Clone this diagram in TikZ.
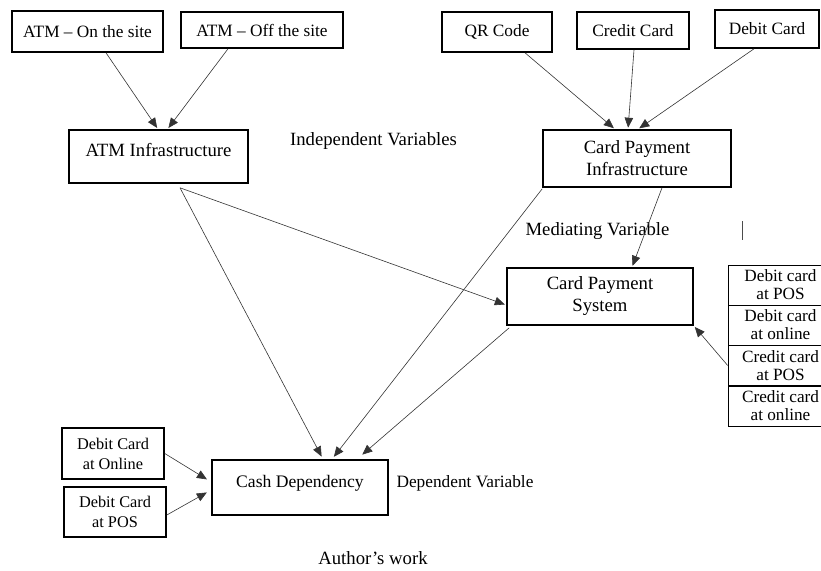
\documentclass[tikz,border=0pt]{standalone}
\usepackage{fontspec}
\setmainfont{Liberation Serif}
\usetikzlibrary{arrows.meta, positioning}
\tikzset{
	varbox/.style={draw, line width=1.6pt, inner sep=0pt, align=center,
		font=\fontsize{18.7}{22}\selectfont}
}
\tikzset{
	fsize/.style={font=\fontsize{#1}{21}\selectfont}
}
\tikzset{
	cellbox/.style={draw, line width=0.6pt, inner sep=0pt, align=center,
		minimum width=105pt, minimum height=40.25pt,
		font=\fontsize{17.2}{18}\selectfont}
}
\tikzset{
	plaintext/.style={inner sep=0pt, font=\fontsize{18.7}{22}\selectfont}
}
\tikzset{
	toptext/.style={text height=12.5pt, text depth=12.5pt}
}
\tikzset{
	conn/.style={-{Triangle[length=10pt,width=8.5pt]}, line width=0.6pt, black!80,
		shorten >=1.5pt}
}

\begin{document}
\begin{tikzpicture}[x=1pt, y=-1pt]
      \useasboundingbox (0,0) rectangle (821,570);
      % sources of the two infrastructures
      \node[varbox, fsize=17.3, minimum width=151pt, minimum height=41pt] (onsite) at (87.5,31.5) {ATM -- On the site};
      \node[varbox, fsize=17.3, minimum width=162pt, minimum height=36pt] (offsite) at (262,30) {ATM -- Off the site};
      \node[varbox, fsize=17.3, minimum width=110pt, minimum height=40pt] (qr) at (497,32) {QR Code};
      \node[varbox, fsize=17.3, minimum width=112pt, minimum height=37pt] (credit) at (633,30.5) {Credit Card};
      \node[varbox, fsize=17.3, minimum width=104pt, minimum height=38pt] (debit) at (767,29) {Debit Card};
      % infrastructures, system and outcome
      \node[varbox, toptext, minimum width=179pt, minimum height=53pt] (atm) at (158.5,156.5) {ATM Infrastructure};
      \node[varbox, minimum width=188pt, minimum height=57pt] (cpi) at (637,158.5) {Card Payment\\Infrastructure};
      \node[varbox, minimum width=186pt, minimum height=57pt] (cps) at (600,296.5) {Card Payment\\System};
      \node[varbox, fsize=17.6, toptext, minimum width=176pt, minimum height=55pt] (cash) at (300,487.5) {Cash Dependency};
      \node[varbox, font=\fontsize{16.3}{20}\selectfont, minimum width=102pt, minimum height=51pt] (dco) at (113,453.5) {Debit Card\\at Online};
      \node[varbox, font=\fontsize{16.3}{20}\selectfont, minimum width=102pt, minimum height=50pt] (dcp) at (115,512) {Debit Card\\at POS};
      % channels of the payment system, cut at the right edge
      \foreach \i/\lbl/\yy in {1/{Debit card\\at POS}/285, 2/{Debit card\\at online}/325,
        3/{Credit card\\at POS}/365.5, 4/{Credit card\\at online}/406}
        \node[cellbox] (cell\i) at (780.5,\yy) {\lbl};
      % variable labels
      \node[plaintext] (indep) at (373.5,141) {Independent Variables};
      \node[plaintext] (medi) at (597.5,231) {Mediating Variable};
      \node[plaintext, fsize=17.3] (dep) at (465,483) {Dependent Variable};
      \node[plaintext] (source) at (373,558) {Author's work};
      \draw[line width=0.8pt, black!70] (742,221) -- (742,240);
      % arrows
      \draw[conn] ([xshift=18.5pt]onsite.south) -- ([xshift=-0.5pt]atm.north);
      \draw[conn] ([xshift=-34pt]offsite.south) -- ([xshift=9pt]atm.north);
      \draw[conn] ([xshift=28pt]qr.south) -- ([xshift=-22pt]cpi.north);
      \draw[conn] ([xshift=1pt]credit.south) -- ([xshift=-9pt]cpi.north);
      \draw[conn] ([xshift=-13pt]debit.south) -- ([xshift=1pt]cpi.north);
      \draw[conn, shorten >=3pt] ([xshift=21.5pt,yshift=-4pt]atm.south) -- ([xshift=23pt]cash.north);
      \draw[conn] ([xshift=21.5pt,yshift=-4pt]atm.south) -- ([yshift=-8.5pt]cps.west);
      \draw[conn, shorten >=3pt] ([yshift=-1pt]cpi.south west) -- ([xshift=32pt]cash.north);
      \draw[conn] ([xshift=25pt]cpi.south) -- ([xshift=32pt]cps.north);
      \draw[conn, shorten >=7pt] ([xshift=3pt,yshift=-2pt]cps.south west) -- ([xshift=57pt]cash.north);
      \draw[conn] (cell3.west) -- (cps.south east);
      \draw[conn, shorten >=5pt] (dco.east) -- ([yshift=5.5pt]cash.west);
      \draw[conn, shorten >=5pt] ([yshift=-3pt]dcp.east) -- ([yshift=-2.5pt]cash.west);
    \end{tikzpicture}
\end{document}
